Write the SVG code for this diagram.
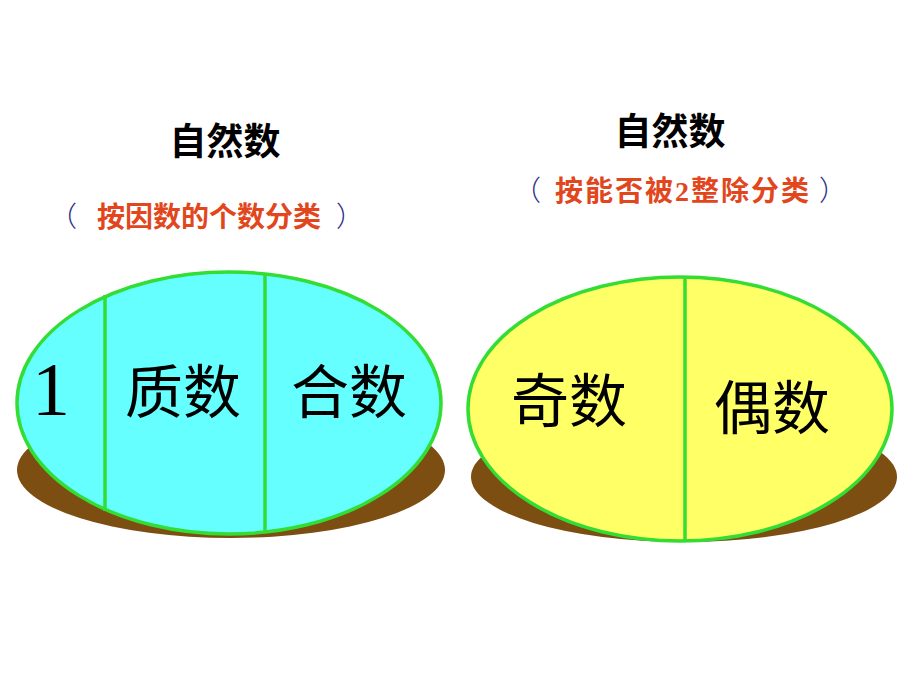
<svg xmlns="http://www.w3.org/2000/svg" width="920" height="690" viewBox="0 0 920 690">
<style>
.title{font-family:"Noto Sans CJK SC","Liberation Sans",sans-serif;font-weight:bold;font-size:37px;fill:#000;text-anchor:middle}
.sub{font-family:"Liberation Serif","Noto Sans CJK SC",serif;font-weight:bold;font-size:28px;fill:#E2461C;text-anchor:middle}
.par{font-family:"Noto Sans CJK SC",sans-serif;font-size:28px;fill:#2A2F86;font-weight:300}
.lbl{font-family:"Liberation Serif","Noto Sans CJK SC",serif;font-size:58px;fill:#000;text-anchor:middle}
.shadow{fill:#7D4E12}
.edge{stroke:#33DD33;stroke-width:3.5;fill:none}
</style>
<rect width="920" height="690" fill="#fff"/>
<g id="title-left">
<text class="title" x="225" y="155">自然数</text>
<text class="par" x="49" y="227">（</text>
<text class="sub" x="209" y="227">按因数的个数分类</text>
<text class="par" x="336" y="227">）</text>
</g>
<g id="title-right">
<text class="title" x="670" y="145">自然数</text>
<text class="par" x="513" y="201">（</text>
<text class="sub" x="683" y="201" letter-spacing="2">按能否被2整除分类</text>
<text class="par" x="819" y="201">）</text>
</g>
<g id="oval-left">
<ellipse class="shadow" cx="231" cy="470" rx="214" ry="68"/>
<ellipse cx="229" cy="403" rx="212" ry="131" fill="#66FFFF" stroke="#33DD33" stroke-width="3.5"/>
<line class="edge" x1="105" y1="295" x2="105" y2="511"/>
<line class="edge" x1="265" y1="273" x2="265" y2="533"/>
<text class="lbl" x="51" y="415" style="font-size:76px">1</text>
<text class="lbl" x="183" y="413">质数</text>
<text class="lbl" x="349" y="413">合数</text>
</g>
<g id="oval-right">
<ellipse class="shadow" cx="684" cy="477" rx="213" ry="65"/>
<ellipse cx="680" cy="409" rx="212" ry="132" fill="#FFFF66" stroke="#33DD33" stroke-width="3.5"/>
<line class="edge" x1="685" y1="278" x2="685" y2="541"/>
<text class="lbl" x="569" y="422">奇数</text>
<text class="lbl" x="772" y="429">偶数</text>
</g>
</svg>
